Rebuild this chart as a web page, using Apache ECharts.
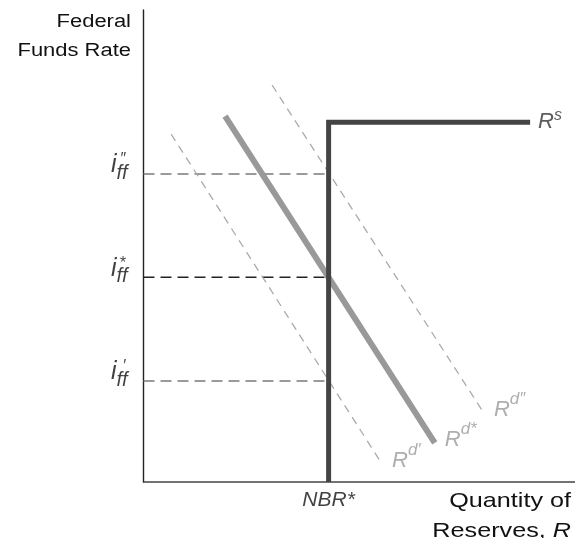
<!DOCTYPE html>
<html><head><meta charset="utf-8">
<script src="https://cdn.jsdelivr.net/npm/echarts@6/dist/echarts.min.js"></script>
<style>html,body{margin:0;padding:0;background:#fff}#c{width:575px;height:538px}</style>
</head><body><div id="c"></div>
<script>
// ---- data (abstract units: quantity 0..100, rate 0..100) ----
const nbrStar = 42.9;                 // non-borrowed reserves
const supplyTop = 76.2;               // discount rate level (kink of Rs)
const supplyEnd = 89.6;               // end of horizontal part of Rs
const rateMarks = ['″', '*', '′'];    // i_ff'', i_ff*, i_ff'
const rateValues = [65.25, 43.4, 21.4];
const rateColors = ['#7a7a7a', '#222222', '#7a7a7a'];
const rdStar = [[18.9, 77.5], [67.5, 8.3]];
const rdDouble = [[29.8, 84.1], [78.9, 14.6]];
const rdPrime = [[6.4, 73.7], [55.3, 3.8]];
const demandNames = ['d″', 'd*', 'd′'];

const FONT = 'Liberation Sans, Arial, Helvetica, sans-serif';
const chart = echarts.init(document.getElementById('c'));

const supplyData = [[nbrStar, 0], [nbrStar, supplyTop], [supplyEnd, supplyTop]];

const series = [];
// horizontal dashed rate lines
rateValues.forEach((v, k) => {
  series.push({
    type: 'line', data: [[0, v], [nbrStar, v]], symbol: 'none', silent: true,
    lineStyle: { color: rateColors[k], width: 1.5, type: [11, 6] }, z: 2
  });
});
// dashed demand curves
[rdDouble, rdPrime].forEach(d => {
  series.push({
    type: 'line', data: d, symbol: 'none', silent: true,
    lineStyle: { color: '#ababab', width: 1.3, type: [8, 6] }, z: 2
  });
});
// Rd* solid
series.push({
  type: 'line', data: rdStar, symbol: 'none', silent: true,
  lineStyle: { color: '#999999', width: 6, cap: 'butt' }, z: 3
});
// supply
series.push({
  type: 'line', data: supplyData, symbol: 'none', silent: true,
  lineStyle: { color: '#444444', width: 5, join: 'miter', cap: 'butt' }, z: 4
});

// rate tick labels: i, ff (subscript), mark (superscript)
const lbl = (data, fmt, size, offset, align, vAlign, color) => ({
  type: 'scatter', symbolSize: 0, silent: true, z: 5,
  data: data,
  label: {
    show: true, position: offset, formatter: fmt, align: align, verticalAlign: vAlign,
    fontFamily: FONT, fontSize: size, fontStyle: 'italic', color: color
  }
});
series.push(lbl(rateValues.map(v => [0, v]), 'i', 25, [-27, 4], 'right', 'bottom', '#111'));
series.push(lbl(rateValues.map(v => [0, v]), 'ff', 20, [-16, 9], 'right', 'bottom', '#111'));
series.push(lbl(rateValues.map((v, k) => ({ value: [0, v], name: rateMarks[k] })), p => p.name, 16, [-18, -22], 'right', 'top', '#111'));

// demand curve labels at lower end
const demandEnds = [rdDouble[1], rdStar[1], rdPrime[1]];
series.push({
  type: 'scatter', symbolSize: 0, silent: true, z: 5,
  data: demandEnds.map((p, k) => ({ value: p, name: demandNames[k] })),
  label: {
    show: true, position: [10, 8], align: 'left', verticalAlign: 'bottom',
    formatter: p => '{r|R}{s|' + p.name + '}',
    rich: {
      r: { fontFamily: FONT, fontSize: 22, fontStyle: 'italic', color: '#9a9a9a', lineHeight: 30, verticalAlign: 'bottom', padding: [8, 0, 0, 0] },
      s: { fontFamily: FONT, fontSize: 17, fontStyle: 'italic', color: '#9a9a9a', lineHeight: 17, verticalAlign: 'top' }
    }
  }
});
// Rs label
series.push({
  type: 'scatter', symbolSize: 0, silent: true, z: 5,
  data: [{ value: supplyData[2], name: 's' }],
  label: {
    show: true, position: [8, 11], align: 'left', verticalAlign: 'bottom',
    formatter: p => '{r|R}{s|' + p.name + '}',
    rich: {
      r: { fontFamily: FONT, fontSize: 22, fontStyle: 'italic', color: '#333', lineHeight: 26, verticalAlign: 'bottom', padding: [3, 0, 0, 0] },
      s: { fontFamily: FONT, fontSize: 16, fontStyle: 'italic', color: '#333', lineHeight: 16, verticalAlign: 'top' }
    }
  }
});
// NBR* label
series.push({
  type: 'scatter', symbolSize: 0, silent: true, z: 5,
  data: [{ value: supplyData[0], name: 'NBR*' }],
  label: {
    show: true, position: [0, 8], align: 'center', verticalAlign: 'top',
    formatter: p => p.name, fontFamily: FONT, fontSize: 21, fontStyle: 'italic', color: '#111'
  }
});

chart.setOption({
  animation: false,
  grid: { left: 143.5, right: 0, top: 10, bottom: 56, containLabel: false },
  xAxis: {
    type: 'value', min: 0, max: 100, splitLine: { show: false },
    axisTick: { show: false }, axisLabel: { show: false },
    axisLine: { show: true, lineStyle: { color: '#444', width: 1.6 } }
  },
  yAxis: {
    type: 'value', min: 0, max: 100, splitLine: { show: false },
    axisTick: { show: false }, axisLabel: { show: false },
    axisLine: { show: true, lineStyle: { color: '#222', width: 1.4 } }
  },
  graphic: [
    { type: 'text', x: 131, y: 8, scaleX: 1.22, style: { text: 'Federal\nFunds Rate', align: 'right', verticalAlign: 'top', font: '18px ' + FONT, lineHeight: 29, fill: '#111' } },
    { type: 'text', x: 571, y: 486, scaleX: 1.2, style: { text: '{n|Quantity of}\n{n|Reserves, }{i|R}', align: 'right', verticalAlign: 'top',
      rich: { n: { fontFamily: FONT, fontSize: 21, lineHeight: 30, fill: '#111' }, i: { fontFamily: FONT, fontSize: 21, fontStyle: 'italic', lineHeight: 30, fill: '#111' } } } }
  ],
  series: series
});
</script></body></html>
